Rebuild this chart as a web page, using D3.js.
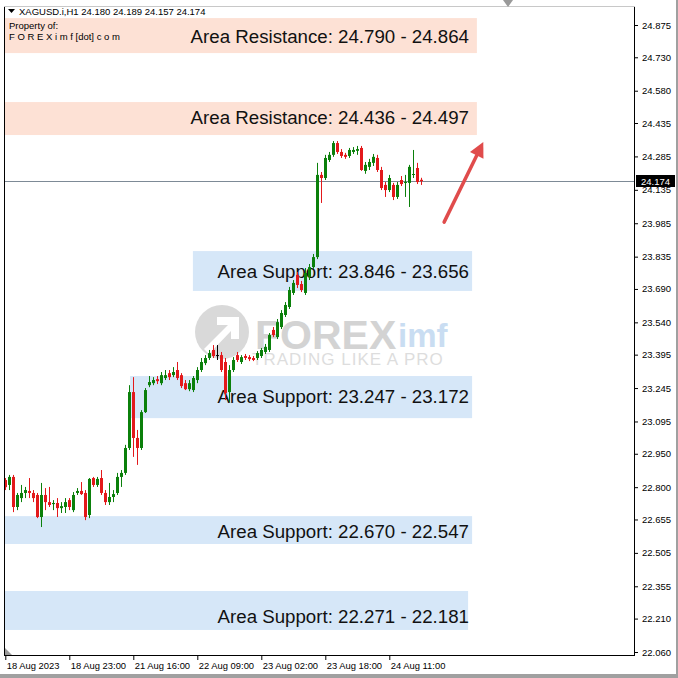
<!DOCTYPE html>
<html><head><meta charset="utf-8">
<script src="https://cdn.jsdelivr.net/npm/d3@7"></script>
<style>html,body{margin:0;padding:0;background:#fff}svg{display:block}</style>
</head><body><svg id="chart" width="678" height="678"></svg>
<script>
// ---------- DATA ----------
const symbolLabel = "XAGUSD.i,H1";
const headerOHLC = [24.180, 24.189, 24.157, 24.174];
const lastPrice = 24.174;

const opens = [22.832,22.810,22.846,22.711,22.751,22.774,22.783,22.774,22.765,22.666,
22.765,22.733,22.724,22.729,22.706,22.711,22.742,22.697,22.774,22.783,
22.774,22.675,22.841,22.810,22.841,22.774,22.733,22.756,22.774,22.846,
22.864,22.976,23.227,23.021,22.976,23.137,23.258,23.267,23.285,23.267,
23.290,23.312,23.303,23.326,23.303,23.267,23.240,23.236,23.281,23.326,
23.357,23.380,23.416,23.393,23.393,23.362,23.227,23.326,23.393,23.362,
23.389,23.384,23.380,23.380,23.389,23.407,23.416,23.506,23.474,23.519,
23.573,23.609,23.672,23.753,23.712,23.672,23.744,23.788,23.833,24.202,
24.188,24.269,24.292,24.345,24.305,24.292,24.287,24.305,24.310,24.323,
24.220,24.238,24.256,24.278,24.224,24.157,24.134,24.157,24.103,24.179,
24.166,24.166,24.202,24.233,24.180];
const highs = [22.841,22.855,22.855,22.774,22.810,22.801,22.841,22.787,22.774,22.819,
22.796,22.801,22.742,22.751,22.733,22.751,22.751,22.778,22.796,22.823,
22.787,22.841,22.846,22.846,22.877,22.787,22.819,22.787,22.864,22.877,
22.990,23.258,23.294,23.057,23.146,23.245,23.299,23.294,23.299,23.317,
23.326,23.326,23.339,23.362,23.312,23.281,23.281,23.299,23.339,23.380,
23.393,23.416,23.438,23.438,23.407,23.380,23.348,23.384,23.407,23.393,
23.398,23.393,23.389,23.411,23.425,23.443,23.492,23.519,23.555,23.595,
23.631,23.699,23.730,23.766,23.726,23.784,23.802,23.847,24.256,24.215,
24.292,24.305,24.354,24.354,24.318,24.301,24.323,24.327,24.332,24.332,
24.260,24.274,24.296,24.292,24.238,24.170,24.202,24.166,24.170,24.197,
24.202,24.247,24.314,24.256,24.189];
const lows = [22.787,22.787,22.688,22.697,22.733,22.751,22.751,22.733,22.661,22.621,
22.697,22.711,22.697,22.666,22.684,22.684,22.697,22.688,22.765,22.765,
22.652,22.661,22.801,22.801,22.765,22.720,22.720,22.733,22.765,22.801,
22.855,22.967,22.936,22.900,22.967,23.133,23.249,23.258,23.263,23.258,
23.281,23.281,23.294,23.281,23.245,23.236,23.231,23.227,23.267,23.317,
23.348,23.371,23.380,23.371,23.317,23.191,23.182,23.317,23.362,23.353,
23.371,23.366,23.366,23.371,23.380,23.398,23.407,23.474,23.465,23.510,
23.564,23.600,23.663,23.694,23.676,23.663,23.730,23.780,23.824,24.076,
24.179,24.260,24.283,24.296,24.278,24.274,24.278,24.296,24.292,24.220,
24.207,24.224,24.242,24.215,24.134,24.103,24.125,24.089,24.094,24.152,
24.103,24.058,24.188,24.161,24.157];
const closes = [22.800,22.846,22.711,22.765,22.774,22.787,22.774,22.751,22.666,22.765,
22.733,22.720,22.729,22.706,22.715,22.733,22.711,22.765,22.783,22.769,
22.666,22.837,22.810,22.837,22.774,22.733,22.756,22.769,22.846,22.864,
22.976,23.227,23.021,22.976,23.137,23.236,23.272,23.281,23.276,23.303,
23.303,23.294,23.317,23.290,23.254,23.240,23.267,23.290,23.326,23.362,
23.380,23.402,23.389,23.393,23.326,23.222,23.326,23.371,23.371,23.384,
23.380,23.375,23.371,23.402,23.416,23.430,23.483,23.483,23.541,23.582,
23.618,23.685,23.717,23.708,23.685,23.762,23.788,23.833,24.202,24.188,
24.278,24.292,24.345,24.305,24.287,24.283,24.314,24.314,24.318,24.224,
24.247,24.260,24.283,24.224,24.143,24.134,24.188,24.103,24.157,24.161,
24.170,24.238,24.206,24.170,24.174];

const priceTicks = [24.875,24.730,24.580,24.435,24.285,24.135,23.985,23.835,23.690,23.540,
23.395,23.245,23.095,22.950,22.800,22.655,22.505,22.355,22.210,22.060];
const timeLabels = ["18 Aug 2023","18 Aug 23:00","21 Aug 16:00","22 Aug 09:00","23 Aug 02:00","23 Aug 18:00","24 Aug 11:00"];
const timeLabelBars = [0,16,32,48,64,80,96];

// zones: label, kind, drawn top price, drawn bottom price, start bar, end bar
const zoneLabels = ["Area Resistance: 24.790 - 24.864","Area Resistance: 24.436 - 24.497",
  "Area Support: 23.846 - 23.656","Area Support: 23.247 - 23.172",
  "Area Support: 22.670 - 22.547","Area Support: 22.271 - 22.181"];
const zoneKinds = ["res","res","sup","sup","sup","sup"];
const zoneTop = [24.906,24.529,23.860,23.299,22.670,22.334];
const zoneBottom = [24.749,24.381,23.681,23.110,22.545,22.159];
const zoneStart = [-0.1,-0.1,46.9,31.2,-0.1,-0.1];
const zoneEnd = [117.9,117.9,116.7,116.7,116.7,115.7];

// arrow annotation (bar index, price)
const arrowFrom = [109.7, 23.990];
const arrowTo = [119.5, 24.350];

// ---------- LAYOUT ----------
const svg = d3.select("#chart");
const L = 4, R = 634, T = 6, B = 655;
const x = d3.scaleLinear().domain([-0.325, 157.175]).range([L, R]);
const y = d3.scaleLinear().domain([22.060, 24.875]).range([652, 25]);
const FONT = "Tahoma, 'Liberation Sans', Arial, sans-serif";
const labelShift = [0, -2, -1, -2, 0, 5];

svg.append("rect").attr("x",0).attr("y",0).attr("width",678).attr("height",678).attr("fill","#fff");
svg.append("rect").attr("x",676).attr("y",0).attr("width",2).attr("height",678).attr("fill","#a0a0a0");
svg.append("rect").attr("x",0).attr("y",674).attr("width",678).attr("height",4).attr("fill","#a0a0a0");

const plot = svg.append("g");
plot.append("defs").append("clipPath").attr("id","clip").append("rect")
  .attr("x",L).attr("y",T).attr("width",R-L).attr("height",B-T);

// zones
const zones = plot.append("g").attr("clip-path","url(#clip)");
zoneLabels.forEach((lab,i)=>{
  const x0 = Math.max(L+1, x(zoneStart[i])), x1 = x(zoneEnd[i]);
  zones.append("rect").attr("x",x0).attr("y",y(zoneTop[i]))
    .attr("width",x1-x0).attr("height",y(zoneBottom[i])-y(zoneTop[i]))
    .attr("fill", zoneKinds[i]==="res" ? "#fde1d5" : "#d6e7f8");
});

// watermark
const wm = plot.append("g").attr("opacity",0.5);
wm.append("circle").attr("cx",222).attr("cy",332).attr("r",27).attr("fill","#b4b4b4");
wm.append("path").attr("d","M204,349 L228,325 L217,325 L217,317 L239,317 L239,339 L231,339 L231,331 L209,354 Z").attr("fill","#fff");
wm.append("text").attr("x",255).attr("y",349).attr("font-family","'Liberation Sans', Arial, sans-serif").attr("font-weight","bold")
  .attr("font-size",41).attr("fill","#a8a8a8").text("FOREX");
wm.append("text").attr("x",398).attr("y",347).attr("font-family","'Liberation Sans', Arial, sans-serif").attr("font-weight","bold")
  .attr("font-size",33).attr("fill","#94bde6").text("imf");
wm.append("text").attr("x",252).attr("y",365).attr("font-family","'Liberation Sans', Arial, sans-serif")
  .attr("font-size",17).attr("letter-spacing",1).attr("fill","#bdbdbd").text("TRADING LIKE A PRO");

// price line
plot.append("line").attr("x1",L).attr("x2",R).attr("y1",Math.round(y(lastPrice))+0.5).attr("y2",Math.round(y(lastPrice))+0.5)
  .attr("stroke","#7d8a96").attr("stroke-width",1);

// candles
const cg = plot.append("g").attr("clip-path","url(#clip)");
opens.forEach((o,i)=>{
  const c = closes[i], h = highs[i], l = lows[i];
  const col = Math.abs(c-o) < 0.0005 ? "#000" : (c > o ? "#0b800b" : "#e3191b");
  const cx = Math.round(x(i));
  cg.append("line").attr("x1",cx+0.5).attr("x2",cx+0.5).attr("y1",y(h)).attr("y2",y(l))
    .attr("stroke",col).attr("stroke-width",1);
  const yt = y(Math.max(o,c)), yb = y(Math.min(o,c));
  cg.append("rect").attr("x",cx-1).attr("y",yt).attr("width",3).attr("height",Math.max(1,yb-yt)).attr("fill",col);
});

// zone labels
zoneLabels.forEach((lab,i)=>{
  zones.append("text").attr("x",469).attr("y",(y(zoneTop[i])+y(zoneBottom[i]))/2+1+labelShift[i])
    .attr("text-anchor","end").attr("dominant-baseline","central")
    .attr("font-family","'Liberation Sans', Arial, sans-serif").attr("font-size",18.7).attr("fill","#111").text(lab);
});

// arrow
const ax0 = x(arrowFrom[0]), ay0 = y(arrowFrom[1]), ax1 = x(arrowTo[0]), ay1 = y(arrowTo[1]);
const ang = Math.atan2(ay1-ay0, ax1-ax0);
const hl = 15, hw = 7.5;
const bx = ax1 - hl*Math.cos(ang), by = ay1 - hl*Math.sin(ang);
plot.append("line").attr("x1",ax0).attr("y1",ay0).attr("x2",bx).attr("y2",by)
  .attr("stroke","#e04c4c").attr("stroke-width",3.5).attr("stroke-linecap","round");
plot.append("path").attr("d",`M${ax1},${ay1} L${bx+hw*Math.sin(ang)},${by-hw*Math.cos(ang)} L${bx-hw*Math.sin(ang)},${by+hw*Math.cos(ang)} Z`)
  .attr("fill","#e04c4c");

// frame lines
plot.append("line").attr("x1",L+0.5).attr("x2",L+0.5).attr("y1",T).attr("y2",B).attr("stroke","#000");
plot.append("line").attr("x1",R+0.5).attr("x2",R+0.5).attr("y1",T).attr("y2",B).attr("stroke","#000");
plot.append("line").attr("x1",L).attr("x2",R+1).attr("y1",B+0.5).attr("y2",B+0.5).attr("stroke","#000");
plot.append("line").attr("x1",L).attr("x2",R+1).attr("y1",T+0.5).attr("y2",T+0.5).attr("stroke","#c8c8c8");

// shift marker triangles
svg.append("path").attr("d","M503,0 L513,0 L508,7 Z").attr("fill","#9a9a9a");
svg.append("path").attr("d","M5,648 L5,655 L12,655 Z").attr("fill","#9a9a9a");

// right axis
const yAxis = d3.axisRight(y).tickValues(priceTicks).tickSize(3).tickFormat(d3.format(".3f"));
const ya = svg.append("g").attr("transform",`translate(${R+1},0)`).call(yAxis);
ya.select(".domain").remove();
ya.selectAll("line").attr("stroke","#000");
ya.selectAll("text").attr("x",7).attr("font-family",FONT).attr("font-size",9.5).attr("fill","#000");

// current price label
const py = Math.round(y(lastPrice));
svg.append("rect").attr("x",636).attr("y",py-6).attr("width",39).attr("height",12).attr("fill","#000");
svg.append("text").attr("x",641).attr("y",py).attr("dominant-baseline","central")
  .attr("font-family",FONT).attr("font-size",9.5).attr("fill","#fff").text(d3.format(".3f")(lastPrice));

// bottom axis
const xAxis = d3.axisBottom(x).tickValues(timeLabelBars).tickSize(5).tickFormat((d,i)=>timeLabels[i]);
const xa = svg.append("g").attr("transform",`translate(0,${B})`).call(xAxis);
xa.select(".domain").remove();
xa.selectAll("line").attr("stroke","#000");
xa.selectAll("text").attr("text-anchor","start").attr("x",1).attr("y",7)
  .attr("font-family",FONT).attr("font-size",9.4).attr("fill","#000");

// header
svg.append("path").attr("d","M8,9 L15,9 L11.5,13 Z").attr("fill","#000");
svg.append("text").attr("x",19).attr("y",15).attr("font-family",FONT).attr("font-size",9.5).attr("fill","#000")
  .text(symbolLabel + "  " + headerOHLC.map(d3.format(".3f")).join(" "));
svg.append("text").attr("x",9).attr("y",29).attr("font-family",FONT).attr("font-size",9.5).attr("fill","#000").text("Property of:");
svg.append("text").attr("x",9).attr("y",40).attr("font-family",FONT).attr("font-size",9.5).attr("fill","#000").text("F O R E X i m f [dot] c o m");
</script></body></html>
